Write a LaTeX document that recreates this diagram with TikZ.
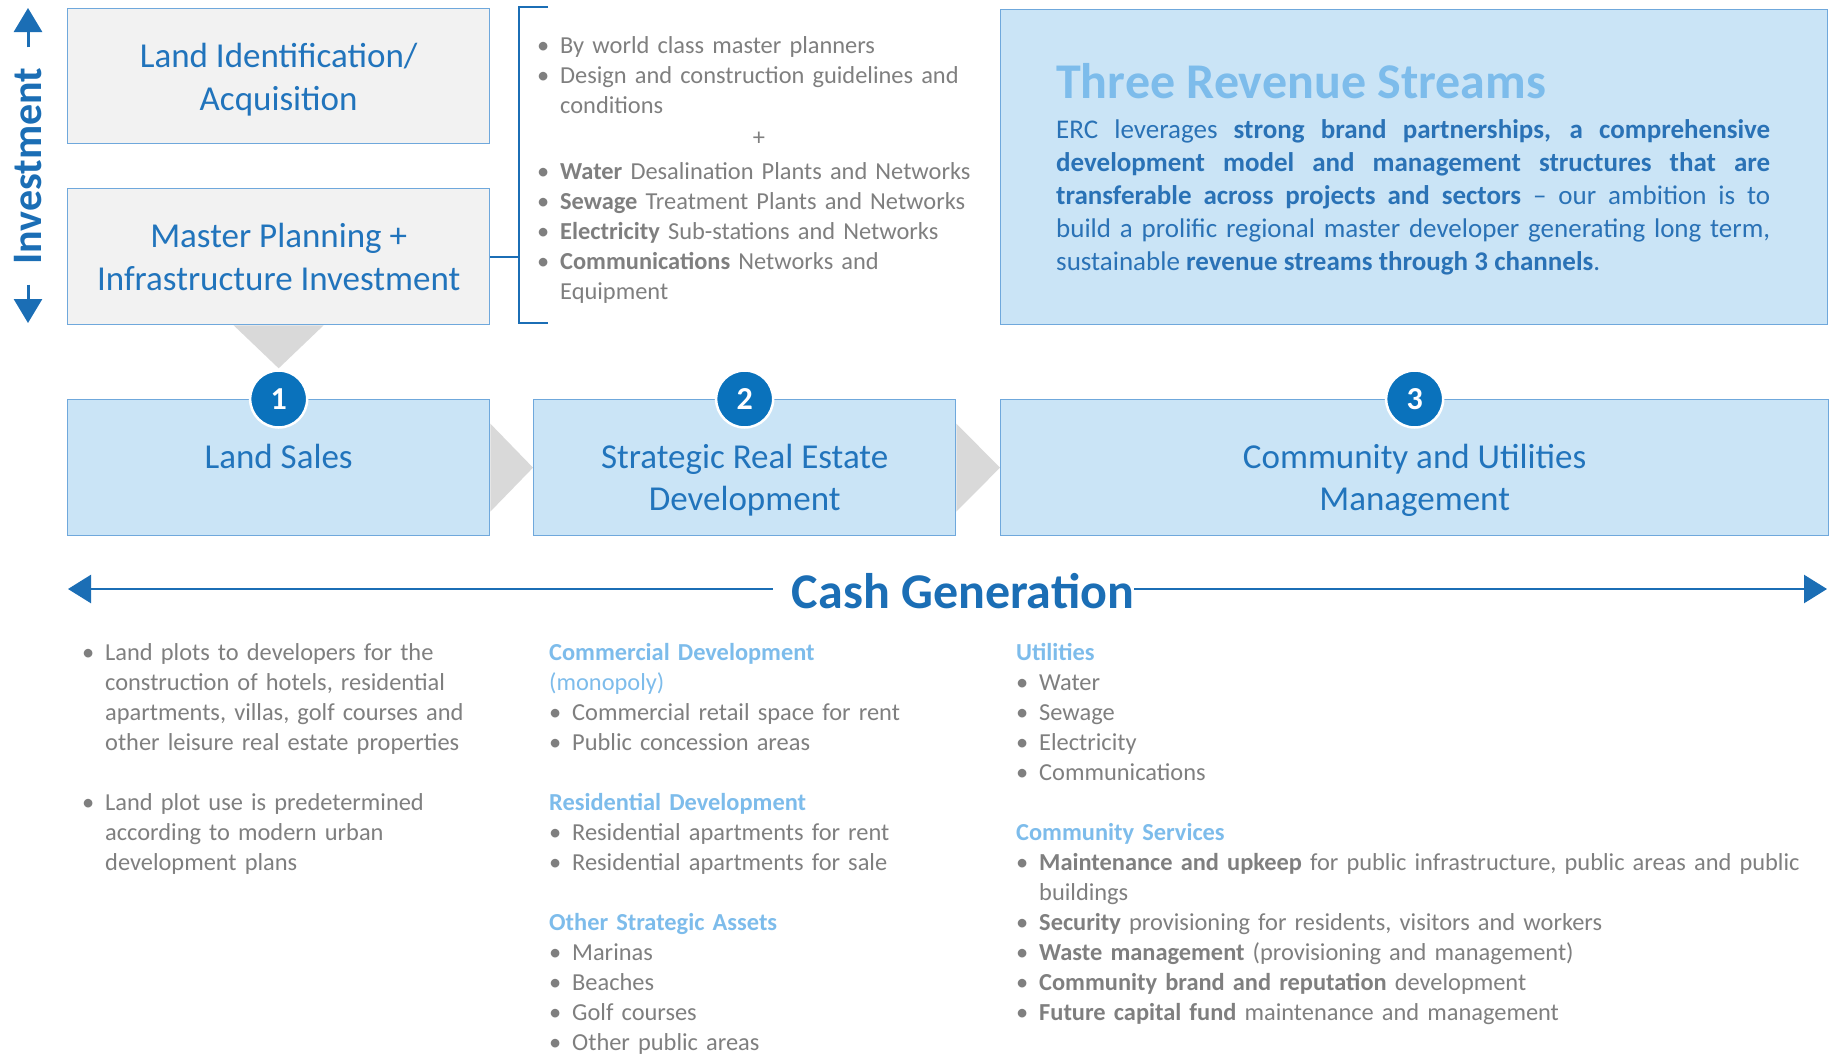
\documentclass[tikz,border=0pt]{standalone}
\usepackage{fontspec}
\setmainfont{Carlito}
\usetikzlibrary{arrows.meta,calc,backgrounds}
\definecolor{boxline}{HTML}{6FA8DC}
\definecolor{grayfill}{HTML}{F2F2F2}
\definecolor{bluefill}{HTML}{CAE4F6}
\definecolor{boxblue}{HTML}{2174BC}
\definecolor{darkblue}{HTML}{1B6EB5}
\definecolor{circblue}{HTML}{0A72BC}
\definecolor{lightblue}{HTML}{7DBCEB}
\definecolor{txtgray}{HTML}{7F7F7F}
\definecolor{chevgray}{HTML}{D9D9D9}
\definecolor{bodyblue}{HTML}{2A72B6}
\hyphenpenalty=10000
\exhyphenpenalty=10000
\newcommand\bul{\par\noindent\hangindent=23pt\hangafter=1\strut\makebox[23pt][l]{\textbullet}}
\newcommand\hd[1]{\par\noindent\strut{\bfseries\color{lightblue}#1}}
\newcommand\blankln{\par\noindent\strut}
\begin{document}
\begin{tikzpicture}[x=1pt,y=-1pt,
  graybox/.style={draw=boxline, fill=grayfill, line width=1.3pt, minimum width=422pt, minimum height=135pt, inner sep=0pt, anchor=north west, font=\fontsize{35}{43}\selectfont, text=boxblue, align=center},
  bluebox/.style={draw=boxline, fill=bluefill, line width=1.3pt, minimum height=136pt, inner sep=0pt, anchor=north west},
  boxlbl/.style={font=\fontsize{35}{42}\selectfont, text=boxblue, align=center, inner sep=0pt, anchor=north},
  numc/.style={circle, fill=circblue, draw=white, line width=2.5pt, minimum size=57pt, inner sep=0pt, text=white, font=\fontsize{32}{38}\selectfont\bfseries},
  coltext/.style={anchor=north west, inner sep=0pt, text width=#1, align=left, font=\fontsize{24.4}{30}\selectfont, text=txtgray},
  chev/.style={fill=chevgray},
  brk/.style={draw=darkblue, line width=2pt},
  cgarr/.style={draw=darkblue, line width=2.5pt, -{Triangle[length=23pt,width=28pt]}},
  invarr/.style={draw=darkblue, line width=3pt, -{Triangle[length=24pt,width=28pt]}}
]
\useasboundingbox (0,0) rectangle (1839,1063);
\begin{scope}[on background layer]
\fill[white] (0,0) rectangle (1839,1063);
\end{scope}

% top-left boxes
\node[graybox] (li) at (67,8) {\rule{0pt}{31pt}Land Identification/\\Acquisition};
\node[graybox, minimum height=136pt] (mp) at (67,188) {Master Planning +\\Infrastructure Investment};

% investment arrow
\node[rotate=90, inner sep=0pt, font=\fontsize{42}{50}\selectfont\bfseries, text=darkblue] (inv) at (28,166) {Investment};
\coordinate (invT) at (28,8);
\coordinate (invB) at (28,323);
\draw[invarr] ($(inv.east)+(0,-20)$) -- (invT);
\draw[invarr] ($(inv.west)+(0,20)$) -- (invB);

% bracket
\coordinate (bkT) at (548,7);
\coordinate (bkB) at (548,323);
\coordinate (bkX) at (519,7);
\draw[brk] (bkT) -- (bkX) -- (bkX |- bkB) -- (bkB);
\draw[brk] (mp.east) -- (mp.east -| bkX);

% top bullet lists
\node[coltext=480pt] (lA) at (537,23) {%
\bul By world class master planners
\bul Design and construction guidelines and\newline conditions\par};
\node[font=\fontsize{24.4}{30}\selectfont, text=txtgray, inner sep=0pt] (plus) at (759,139) {+};
\node[coltext=480pt] (lB) at (537,149) {%
\bul \textbf{Water} Desalination Plants and Networks
\bul \textbf{Sewage} Treatment Plants and Networks
\bul \textbf{Electricity} Sub-stations and Networks
\bul \textbf{Communications} Networks and\newline Equipment\par};

% right box
\node[bluebox, minimum width=827pt, minimum height=315pt] (rb) at (1000,9) {};
\node[anchor=base west, inner sep=0pt, font=\fontsize{50}{60}\selectfont\bfseries, text=lightblue] (title) at (1056,98) {Three Revenue Streams};
\node[anchor=north west, inner sep=0pt, text width=714pt, font=\fontsize{27}{33}\selectfont, text=bodyblue] (body) at (1056,114.9) {%
\spaceskip=0.23em plus 1em minus 0.05em
\noindent\hbox to 714pt{\strut ERC leverages \textbf{strong brand partnerships, a comprehensive}}\par
\noindent\hbox to 714pt{\strut\textbf{development model and management structures that are}}\par
\noindent\hbox to 714pt{\strut\textbf{transferable across projects and sectors} \textendash{} our ambition is to}\par
\noindent\hbox to 714pt{\strut build a prolific regional master developer generating long term,}\par
\noindent\strut sustainable \textbf{revenue streams through 3 channels}.\par};

% row of three boxes
\node[bluebox, minimum width=422pt] (ls) at (67,399) {};
\node[bluebox, minimum width=422pt] (sr) at (533,399) {};
\node[bluebox, minimum width=828pt] (cu) at (1000,399) {};

\begin{scope}[on background layer]
\fill[chev] ($(ls.east)+(0,-44)$) -- (sr.west) -- ($(ls.east)+(0,44)$) -- cycle;
\fill[chev] ($(sr.east)+(0,-44)$) -- (cu.west) -- ($(sr.east)+(0,44)$) -- cycle;
\fill[chev] ($(mp.south)+(-45,0)$) -- ($(mp.south)+(45,0)$) -- ($(mp.south)+(0,43)$) -- cycle;
\end{scope}

\node[boxlbl] (lsT) at ($(ls.north)+(0,39.6)$) {\strut Land Sales};
\node[boxlbl] (srT) at ($(sr.north)+(0,39.6)$) {\strut Strategic Real Estate\\Development};
\node[boxlbl] (cuT) at ($(cu.north)+(0,39.6)$) {\strut Community and Utilities\\Management};

\node[numc] (c1) at (ls.north) {1};
\node[numc] (c2) at (sr.north) {2};
\node[numc] (c3) at (cu.north) {3};

% cash generation
\node[anchor=base, inner sep=0pt, font=\fontsize{50}{58}\selectfont\bfseries, text=darkblue] (cg) at (963,608) {Cash Generation};
\coordinate (cgL) at (68,589);
\coordinate (cgR) at (1827,589);
\coordinate (cgLs) at ($(cg.west)+(-19,0)$);
\draw[cgarr] (cgL -| cgLs) -- (cgL);
\draw[cgarr] (cgR -| cg.east) -- (cgR);

% bottom columns
\node[coltext=440pt] (col1) at (82,630) {%
\bul Land plots to developers for the\newline construction of hotels, residential\newline apartments, villas, golf courses and\newline other leisure real estate properties
\blankln
\bul Land plot use is predetermined\newline according to modern urban\newline development plans\par};

\node[coltext=440pt] (col2) at (549,630) {%
\hd{Commercial Development}
\par\noindent\strut{\color{lightblue}(monopoly)}
\bul Commercial retail space for rent
\bul Public concession areas
\blankln
\hd{Residential Development}
\bul Residential apartments for rent
\bul Residential apartments for sale
\blankln
\hd{Other Strategic Assets}
\bul Marinas
\bul Beaches
\bul Golf courses
\bul Other public areas\par};

\node[coltext=810pt] (col3) at (1016,630) {%
\hd{Utilities}
\bul Water
\bul Sewage
\bul Electricity
\bul Communications
\blankln
\hd{Community Services}
\bul \textbf{Maintenance and upkeep} for public infrastructure, public areas and public\newline buildings
\bul \textbf{Security} provisioning for residents, visitors and workers
\bul \textbf{Waste management} (provisioning and management)
\bul \textbf{Community brand and reputation} development
\bul \textbf{Future capital fund} maintenance and management\par};
\end{tikzpicture}
\end{document}
